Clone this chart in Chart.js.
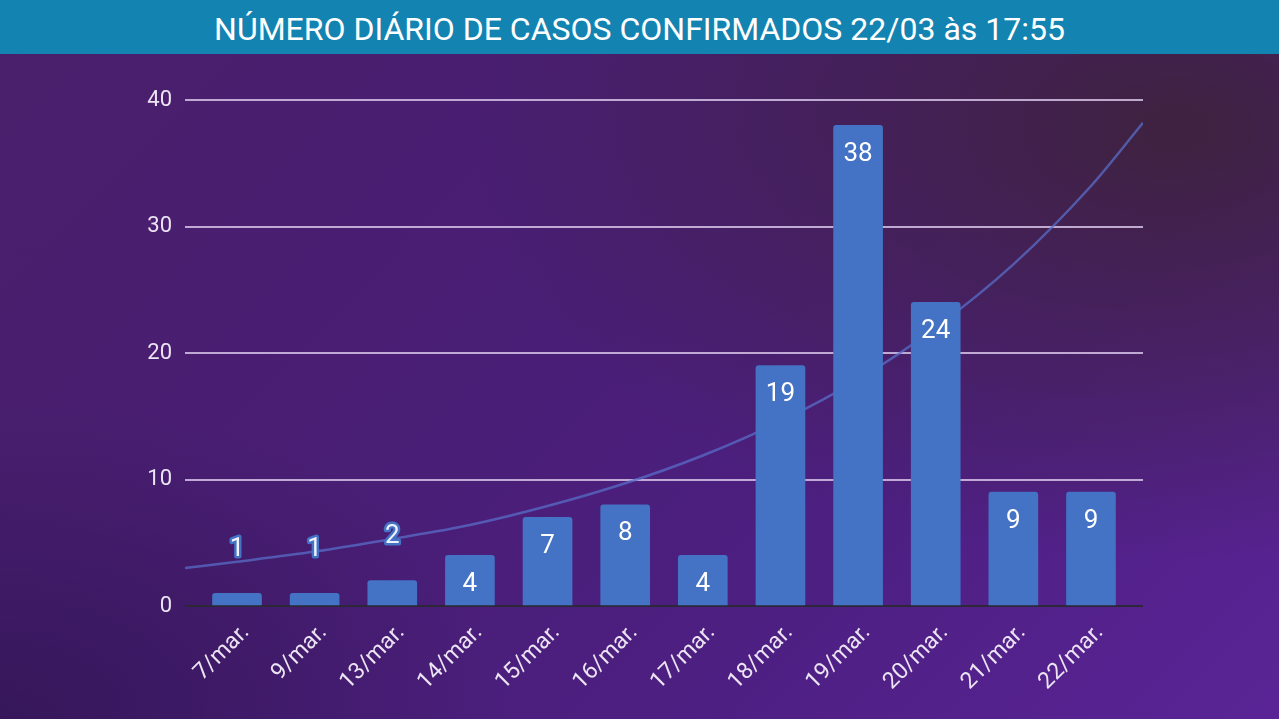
<!DOCTYPE html>
<html><head><meta charset="utf-8">
<script src="https://cdn.jsdelivr.net/npm/chart.js@4/dist/chart.umd.min.js"></script>
<style>
html,body{margin:0;padding:0;width:1279px;height:719px;overflow:hidden;}
body{
  font-family: Roboto, sans-serif;
  background:
    radial-gradient(ellipse 55% 60% at 92% 18%, rgba(62,34,60,0.95), rgba(62,34,60,0) 100%),
    radial-gradient(ellipse 40% 45% at 0% 100%, rgba(52,22,88,0.9), rgba(52,22,88,0) 100%),
    linear-gradient(135deg, #4a1f6a 0%, #491e76 45%, #4d1f82 70%, #5a2496 100%);
}
#title{position:absolute;left:0;top:0;width:1279px;height:54px;background:#1383b1;color:#fff;
  font:32px Roboto, sans-serif;text-align:center;line-height:58px;white-space:nowrap;}
#wrap{position:absolute;left:0;top:54px;width:1279px;height:665px;}
</style></head>
<body>
<div id="title">NÚMERO DIÁRIO DE CASOS CONFIRMADOS 22/03 às 17:55</div>
<div id="wrap"><canvas id="c" width="1279" height="665"></canvas></div>
<script>
const categories = ['7/mar.','9/mar.','13/mar.','14/mar.','15/mar.','16/mar.','17/mar.','18/mar.','19/mar.','20/mar.','21/mar.','22/mar.'];
const cases = [1,1,2,4,7,8,4,19,38,24,9,9];
const trendX = [-0.67,0,1,2,3,4,5,6,7,8,9,10,11,11.67];
const trendY = [3.0,3.5,4.3,5.3,6.4,7.9,9.7,11.9,14.6,17.9,22.0,27.0,33.2,38.2];
const yTicks = [0,10,20,30,40];

Chart.defaults.font.family = 'Roboto';

const labelPlugin = {
  id: 'vals',
  afterDatasetsDraw(chart) {
    const meta = chart.getDatasetMeta(0);
    const ctx = chart.ctx;
    ctx.save();
    ctx.font = '26px Roboto';
    ctx.textAlign = 'center';
    ctx.textBaseline = 'middle';
    meta.data.forEach((bar, i) => {
      const v = String(cases[i]);
      if (cases[i] >= 4) {
        ctx.fillStyle = '#ffffff';
        ctx.fillText(v, bar.x, bar.y + 29);
      } else {
        ctx.lineJoin = 'round';
        ctx.lineWidth = 5;
        ctx.strokeStyle = '#4472c4';
        ctx.strokeText(v, bar.x, bar.y - 44);
        ctx.fillStyle = '#f2f2ff';
        ctx.fillText(v, bar.x, bar.y - 44);
      }
    });
    ctx.restore();
  },
  afterDraw(chart) {
    const xs = chart.scales.x;
    const ctx = chart.ctx;
    ctx.save();
    ctx.font = '23px Roboto';
    ctx.fillStyle = '#ebe4f2';
    ctx.textAlign = 'right';
    ctx.textBaseline = 'alphabetic';
    xs.ticks.forEach((t) => {
      const px = xs.getPixelForValue(t.value);
      ctx.save();
      ctx.translate(px + 13, xs.top + 27);
      ctx.rotate(-Math.PI / 4);
      ctx.fillText(categories[t.value], 0, 0);
      ctx.restore();
    });
    ctx.restore();
  }
};

new Chart(document.getElementById('c'), {
  data: {
    datasets: [
      {
        type: 'bar',
        data: cases.map((v, i) => ({x: i, y: v})),
        backgroundColor: '#4472c4',
        borderRadius: 3,
        borderSkipped: 'bottom',
        barThickness: 49,
        order: 1
      },
      {
        type: 'line',
        data: trendX.map((x, i) => ({x: x, y: trendY[i]})),
        borderColor: 'rgba(88,110,200,0.75)',
        borderWidth: 2.5,
        pointRadius: 0,
        cubicInterpolationMode: 'monotone',
        fill: false,
        order: 2
      }
    ]
  },
  options: {
    responsive: false,
    animation: false,
    layout: {padding: {top: 46, left: 0, right: 136, bottom: 0}},
    plugins: {legend: {display: false}, tooltip: {enabled: false}},
    scales: {
      x: {
        type: 'linear',
        offset: false,
        min: -0.67,
        max: 11.67,
        afterFit(axis) { axis.height = 113; },
        afterBuildTicks(axis) { axis.ticks = categories.map((_, i) => ({value: i})); },
        grid: {display: false, drawTicks: false, offset: false},
        border: {display: false},
        ticks: {display: false}
      },
      y: {
        min: 0,
        max: 40,
        afterFit(axis) { axis.width = 185; },
        afterBuildTicks(axis) { axis.ticks = yTicks.map(v => ({value: v})); },
        grid: {
          drawTicks: false,
          lineWidth: 2,
          color: (c) => c.tick && c.tick.value === 0 ? '#2c2838' : 'rgba(214,194,230,0.85)'
        },
        border: {display: false},
        ticks: {padding: 13, color: '#ebe4f2', font: {size: 22}}
      }
    }
  },
  plugins: [labelPlugin]
});
</script>
</body></html>
